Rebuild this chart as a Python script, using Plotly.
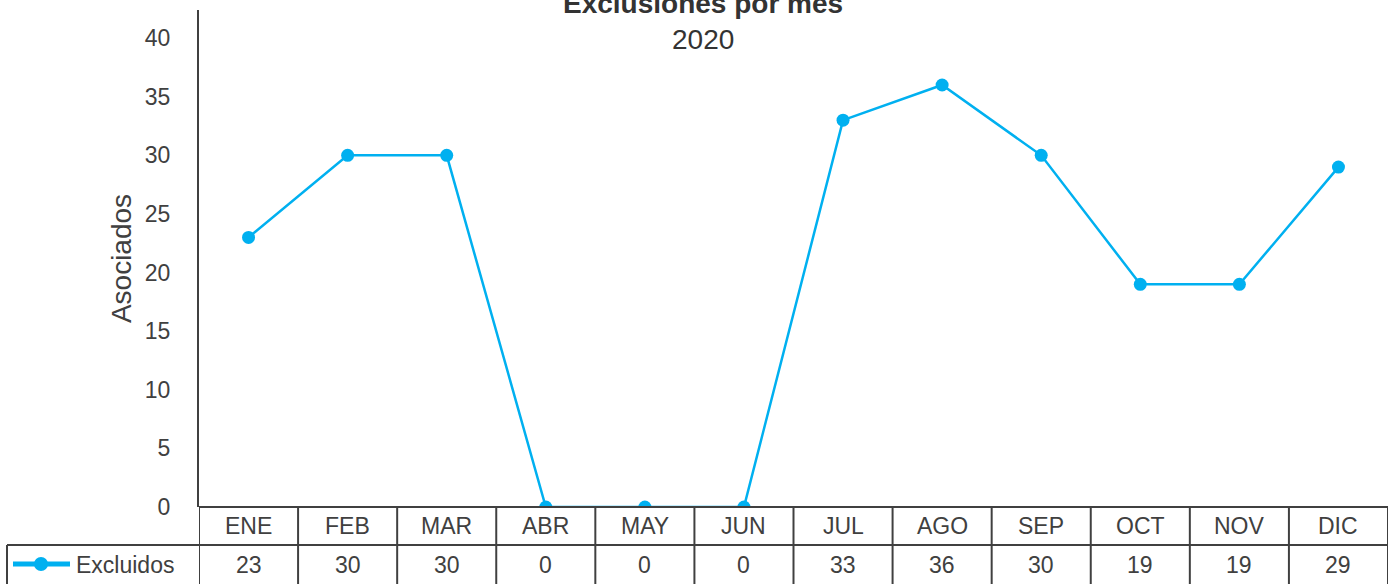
import plotly.graph_objects as go

# datos
meses = ["ENE", "FEB", "MAR", "ABR", "MAY", "JUN", "JUL", "AGO", "SEP", "OCT", "NOV", "DIC"]
excluidos = [23, 30, 30, 0, 0, 0, 33, 36, 30, 19, 19, 29]
serie = "Excluidos"
titulo = "Exclusiones por mes"
subtitulo = "2020"
eje_y = "Asociados"
ticks_y = [0, 5, 10, 15, 20, 25, 30, 35, 40]

AZUL = "#00B0F0"
GRIS = "#404040"
FONT = "Liberation Sans, Arial, Helvetica, sans-serif"

W, H = 1390, 584
L, R, T, B = 199, 2, 10, 77
pw, ph = W - L - R, H - T - B


def py(pix):
    # pixel vertical -> coordenada paper
    return (H - B - pix) / ph


def px_(pix):
    return (pix - L) / pw


fig = go.Figure()
fig.add_trace(go.Scatter(
    x=meses, y=excluidos, name=serie, mode="lines+markers",
    line=dict(color=AZUL, width=2.5),
    marker=dict(color=AZUL, size=13),
))

shapes = []
# tabla de datos
shapes.append(dict(type="line", xref="x", yref="paper", x0=-0.5, x1=11.5, y0=0, y1=0,
                   line=dict(color=GRIS, width=2)))
shapes.append(dict(type="line", xref="paper", yref="paper", x0=px_(7), x1=1, y0=py(545), y1=py(545),
                   line=dict(color=GRIS, width=2)))
for i in range(len(meses) + 1):
    shapes.append(dict(type="line", xref="x", yref="paper", x0=i - 0.5, x1=i - 0.5,
                       y0=0, y1=py(600), line=dict(color=GRIS, width=2)))
shapes.append(dict(type="line", xref="paper", yref="paper", x0=px_(7), x1=px_(7),
                   y0=py(545), y1=py(600), line=dict(color=GRIS, width=2)))
# clave de la leyenda
shapes.append(dict(type="line", xref="paper", yref="paper", x0=px_(13), x1=px_(70),
                   y0=py(564), y1=py(564), line=dict(color=AZUL, width=5)))
shapes.append(dict(type="circle", xref="paper", yref="paper", x0=px_(34), x1=px_(48),
                   y0=py(571), y1=py(557), fillcolor=AZUL, line=dict(color=AZUL, width=0)))

annotations = []
for m, v in zip(meses, excluidos):
    annotations.append(dict(x=m, xref="x", y=py(526), yref="paper", text=m, showarrow=False,
                            yanchor="middle", font=dict(size=23, color=GRIS)))
    annotations.append(dict(x=m, xref="x", y=py(565), yref="paper", text=str(v), showarrow=False,
                            yanchor="middle", font=dict(size=23, color=GRIS)))
annotations.append(dict(x=px_(74), xref="paper", y=py(565), yref="paper", text=serie, showarrow=False,
                        xanchor="left", yanchor="middle", font=dict(size=23, color=GRIS)))
annotations.append(dict(x=px_(703), xref="paper", y=py(3), yref="paper", text="<b>" + titulo + "</b>",
                        showarrow=False, yanchor="middle", font=dict(size=28, color="#333333")))
annotations.append(dict(x=px_(703), xref="paper", y=py(39), yref="paper", text=subtitulo,
                        showarrow=False, yanchor="middle", font=dict(size=28, color="#333333")))

fig.update_layout(
    width=W, height=H,
    margin=dict(l=L, r=R, t=T, b=B),
    paper_bgcolor="white", plot_bgcolor="white",
    font=dict(family=FONT, color=GRIS, size=23),
    showlegend=False,
    shapes=shapes,
    annotations=annotations,
    xaxis=dict(type="category", range=[-0.5, 11.5], showticklabels=False, showgrid=False,
               zeroline=False, showline=False, fixedrange=True, automargin=False),
    yaxis=dict(range=[0, 42.4], tickvals=ticks_y, showgrid=False, zeroline=False,
               showline=True, linecolor=GRIS, linewidth=2, ticks="", ticklabelstandoff=22,
               tickfont=dict(size=23, color=GRIS), automargin=False,
               title=dict(text=eje_y, font=dict(size=28, color=GRIS), standoff=5)),
)

# quitar el margen por defecto del body
fig.write_html("out.html", config={"displayModeBar": False},
               post_script="document.body.style.margin='0';")
